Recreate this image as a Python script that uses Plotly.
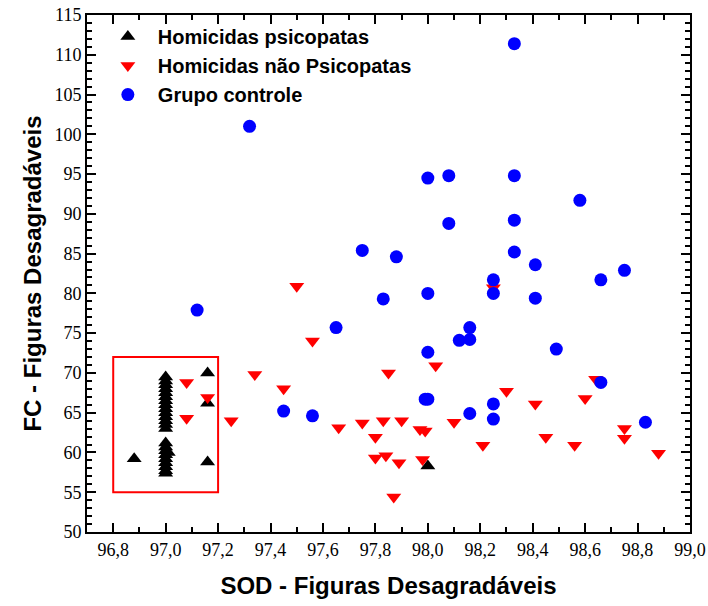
import plotly.graph_objects as go

# Homicidas psicopatas
psic_x = [96.88, 97.16, 97.16, 97.16, 98.0,
          97.0, 97.0, 97.0, 97.0, 97.0, 97.0, 97.0, 97.0, 97.0, 97.0, 97.0, 97.0,
          97.0, 97.0, 97.0, 97.0, 97.0, 97.0, 97.0, 97.0, 97.0, 97.0, 97.01, 97.0]
psic_y = [59.2, 70.0, 66.2, 58.8, 58.3,
          69.5, 69.0, 68.5, 68.0, 67.5, 67.0, 66.5, 66.0, 65.5, 65.0, 64.5, 64.0,
          63.5, 63.0, 61.2, 60.7, 60.2, 59.7, 59.2, 58.7, 58.2, 57.7, 60.0, 57.4]

# Homicidas não psicopatas
nao_x = [97.08, 97.08, 97.16, 97.25, 97.34, 97.45, 97.5, 97.56, 97.66, 97.75,
         97.8, 97.8, 97.83, 97.84, 97.85, 97.87, 97.89, 97.9, 97.97, 97.99,
         97.98, 98.03, 98.1, 98.21, 98.25, 98.3, 98.41, 98.45, 98.56, 98.6,
         98.64, 98.75, 98.75, 98.88]
nao_y = [68.8, 64.3, 66.9, 64.0, 69.8, 68.0, 80.9, 74.0, 63.1, 63.7,
         61.9, 59.3, 64.0, 59.6, 70.0, 54.4, 58.7, 64.0, 62.9, 62.7,
         59.1, 70.9, 63.8, 60.9, 80.7, 67.7, 66.1, 61.9, 60.9, 66.8,
         69.2, 63.0, 61.8, 59.9]

# Grupo controle
ctrl_x = [97.12, 97.32, 97.45, 97.56, 97.65, 97.75, 97.83, 97.88, 97.99, 98.0,
          98.0, 98.0, 98.0, 98.08, 98.08, 98.12, 98.16, 98.16, 98.16, 98.25,
          98.25, 98.25, 98.25, 98.33, 98.33, 98.33, 98.33, 98.41, 98.41, 98.49,
          98.58, 98.66, 98.66, 98.75, 98.83]
ctrl_y = [77.9, 101.0, 65.2, 64.6, 75.7, 85.4, 79.3, 84.6, 66.7, 66.7,
          72.6, 80.0, 94.5, 94.8, 88.8, 74.1, 75.7, 74.2, 64.9, 81.7,
          80.0, 66.1, 64.2, 111.4, 94.8, 89.2, 85.2, 83.6, 79.4, 73.0,
          91.7, 81.7, 68.8, 82.9, 63.8]

fig = go.Figure()
fig.add_trace(go.Scatter(x=psic_x, y=psic_y, mode='markers', name='Homicidas psicopatas',
                         marker=dict(symbol='triangle-up', size=13, color='black')))
fig.add_trace(go.Scatter(x=nao_x, y=nao_y, mode='markers', name='Homicidas não Psicopatas',
                         marker=dict(symbol='triangle-down', size=13, color='red')))
fig.add_trace(go.Scatter(x=ctrl_x, y=ctrl_y, mode='markers', name='Grupo controle',
                         marker=dict(symbol='circle', size=13, color='blue')))

# Red box around the psychopath cluster
fig.add_shape(type='rect', x0=96.8, x1=97.2, y0=55, y1=72,
              line=dict(color='red', width=2))

axis_common = dict(
    showgrid=False, zeroline=False, showline=True, linecolor='black', linewidth=2,
    mirror='ticks', ticks='inside', ticklen=9, tickwidth=2, tickcolor='black',
    automargin=False, ticklabeloverflow='allow',
    tickfont=dict(family='Liberation Serif', size=18, color='black'),
)

fig.update_xaxes(range=[96.7, 99.0], dtick=0.2, tick0=96.8, tickformat='.1f',
                 minor=dict(dtick=0.1, ticks='inside', ticklen=5, tickwidth=2, tickcolor='black'),
                 title=dict(text='SOD - Figuras Desagradáveis', standoff=19,
                            font=dict(family='Liberation Sans', size=24, color='black', weight='bold')),
                 **axis_common)
fig.update_yaxes(range=[50, 115], dtick=5,
                 minor=dict(dtick=1, ticks='inside', ticklen=5, tickwidth=2, tickcolor='black'),
                 title=dict(text='FC - Figuras Desagradáveis', standoff=6,
                            font=dict(family='Liberation Sans', size=24, color='black', weight='bold')),
                 **axis_common)

fig.update_layout(
    width=708, height=606,
    margin=dict(l=87, r=18, t=15, b=74),
    plot_bgcolor='white', paper_bgcolor='white',
    separators=', ',
    legend=dict(x=0.018, y=0.996, xanchor='left', yanchor='top', bgcolor='rgba(0,0,0,0)',
                itemwidth=50,
                font=dict(family='Liberation Sans', size=20, color='black', weight='bold')),
)

# drop the default 8px page margin so the figure fills the window exactly
fig.write_html('out.html', config={'displayModeBar': False},
               post_script="document.body.style.margin = '0';")
